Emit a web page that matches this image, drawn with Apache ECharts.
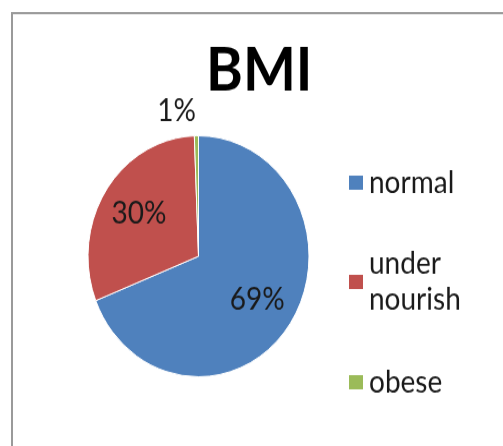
<!DOCTYPE html>
<html>
<head>
<meta charset="utf-8">
<script src="https://cdn.jsdelivr.net/npm/echarts@6/dist/echarts.min.js"></script>
<style>
html,body{margin:0;padding:0;background:#fff;}
#wrap{width:503px;height:446px;overflow:hidden;position:relative;}
#c{width:503px;height:409px;transform:scaleY(1.0905);transform-origin:0 0;position:absolute;left:0;top:0;}
</style>
</head>
<body>
<div id="wrap"><div id="c"></div></div>
<script>
var titleText = 'BMI';
var categories = ['normal', 'under nourish', 'obese'];
var legendLabels = ['normal', 'under\nnourish', 'obese'];
var values = [69.0, 30.4, 0.6];
var colors = ['#4F81BD', '#C0504D', '#9BBB59'];

var FONT = 'Lato';
var chart = echarts.init(document.getElementById('c'), null, {renderer: 'canvas'});

function pct(p) { return Math.round(p.percent) + '%'; }

var mainData = categories.map(function (n, i) {
  return {
    name: n, value: values[i],
    itemStyle: {color: colors[i]},
    label: i === 2 ? {show: true, position: 'outside', formatter: pct} : {show: false},
    labelLine: {show: false}
  };
});
var labelData = categories.map(function (n, i) {
  return {
    name: n, value: values[i],
    itemStyle: {color: 'rgba(0,0,0,0)'},
    label: {show: i !== 2}
  };
});

var LH = 33;
var legendTops = [151, 209, 334];
var legends = categories.map(function (n, i) {
  var multi = legendLabels[i].indexOf('\n') >= 0;
  return {
    data: [n], left: 347, top: legendTops[i], orient: 'vertical',
    icon: 'rect', itemWidth: 16, itemHeight: 15, padding: 0,
    selectedMode: false,
    formatter: function () { return legendLabels[i]; },
    textStyle: {fontFamily: FONT, fontSize: 28, color: '#1a1a1a', lineHeight: LH,
      padding: multi ? [LH, 0, 0, 0] : 0}
  };
});

chart.setOption({
  animation: false,
  title: {
    text: titleText, left: 206, top: 37, padding: 0,
    textStyle: {fontFamily: FONT, fontWeight: 'bold', fontSize: 56, color: '#000'}
  },
  legend: legends,
  graphic: [{
    type: 'rect', shape: {x: 12, y: 12, width: 600, height: 600},
    style: {fill: 'none', stroke: '#9a9a9a', lineWidth: 2}, silent: true
  }],
  series: [{
    type: 'pie', center: [198.5, 235], radius: [0, 110.5],
    startAngle: 90, clockwise: true, avoidLabelOverlap: false,
    itemStyle: {borderColor: '#ffffff', borderWidth: 1},
    label: {fontFamily: FONT, fontSize: 28, color: '#1a1a1a', distanceToLabelLine: 0},
    labelLine: {show: false, length: 23, length2: 0},
    emphasis: {disabled: true},
    data: mainData
  }, {
    type: 'pie', center: [198.5, 235], radius: [0, 136],
    startAngle: 90, clockwise: true, silent: true, avoidLabelOverlap: false,
    label: {position: 'inside', formatter: pct, fontFamily: FONT, fontSize: 28, color: '#1a1a1a'},
    labelLine: {show: false},
    emphasis: {disabled: true},
    data: labelData
  }]
});
</script>
</body>
</html>
